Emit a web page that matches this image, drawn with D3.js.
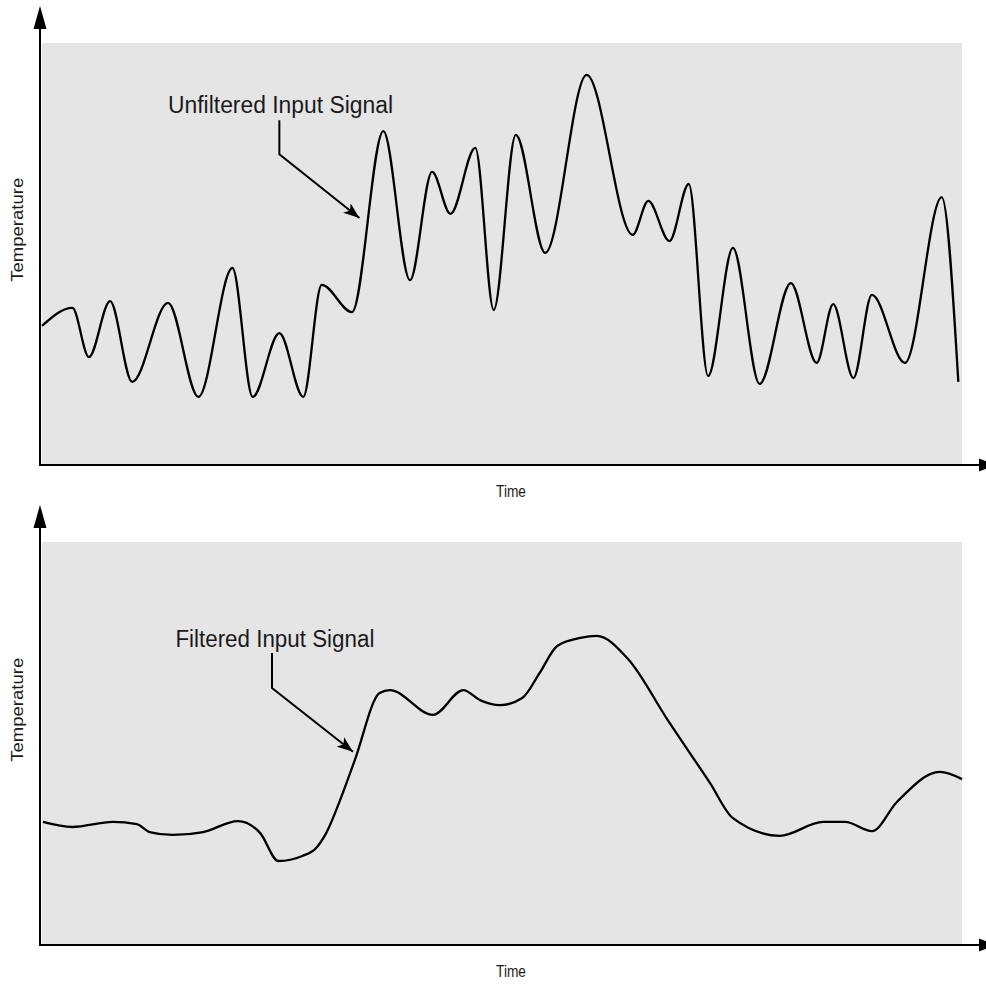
<!DOCTYPE html>
<html>
<head>
<meta charset="utf-8">
<script src="https://cdn.jsdelivr.net/npm/d3@7"></script>
<style>
  html, body { margin: 0; padding: 0; background: #ffffff; }
  svg { display: block; }
  text { font-family: "Liberation Sans", Arial, "DejaVu Sans", sans-serif; fill: #1a1a1a; }
</style>
</head>
<body>
<svg id="chart" width="986" height="986"></svg>
<script>
// ---- Data (time in arbitrary units 0..100, temperature in arbitrary units 0..100) ----
const unfilteredTime = [0.0, 3.3, 5.1, 7.4, 9.8, 13.7, 17.0, 20.7, 22.9, 25.8, 28.4, 30.4, 33.7, 37.1, 40.0, 42.4, 44.4, 47.1, 49.1, 51.5, 54.7, 59.2, 64.2, 65.9, 68.2, 70.3, 72.4, 75.1, 78.0, 81.4, 84.2, 86.0, 88.2, 90.2, 93.8, 97.8, 99.6];
const unfilteredTemp = [33.1, 37.4, 25.7, 39.0, 19.8, 38.6, 16.2, 46.9, 16.2, 31.4, 16.2, 42.9, 36.4, 79.5, 44.0, 69.8, 59.8, 75.5, 36.9, 78.6, 50.5, 92.9, 54.8, 62.9, 53.3, 66.9, 21.2, 51.7, 19.3, 43.3, 24.3, 38.3, 20.7, 40.5, 24.3, 63.8, 19.8];

const filteredTime = [0.1, 3.3, 7.7, 10.3, 11.7, 14.2, 17.5, 21.3, 23.7, 25.7, 28.3, 29.8, 30.9, 32.4, 34.0, 36.7, 37.8, 42.5, 45.8, 47.6, 49.8, 52.2, 54.1, 56.0, 58.5, 60.3, 63.7, 68.0, 72.6, 75.1, 80.2, 84.9, 87.3, 90.2, 92.9, 97.6, 100.0];
const filteredTemp = [29.3, 28.1, 29.3, 28.8, 26.9, 26.2, 26.9, 29.5, 26.7, 20.0, 21.2, 23.1, 26.7, 34.5, 44.0, 60.0, 60.7, 54.8, 60.7, 58.3, 57.1, 58.8, 64.8, 71.2, 73.1, 73.6, 68.1, 53.6, 38.6, 30.2, 26.0, 29.3, 29.3, 27.1, 34.0, 41.2, 39.5];

const panelTitles = ["Unfiltered Input Signal", "Filtered Input Signal"];
const xAxisTitle = "Time";
const yAxisTitle = "Temperature";

// annotation anchors in data units: [labelT, labelV, elbowT, elbowTopV, elbowV, tipT, tipV]
const annotUnfiltered = [13.7, 83.8, 25.8, 82.1, 74.0, 34.5, 58.8];
const annotFiltered = [14.5, 71.0, 25.0, 69.5, 61.2, 33.8, 46.0];

// ---- Layout ----
const svg = d3.select("#chart");
const x = d3.scaleLinear().domain([0, 100]).range([42, 962]);

const panels = [
  { time: unfilteredTime, temp: unfilteredTemp, title: panelTitles[0], annot: annotUnfiltered, titleLen: 225,
    y: d3.scaleLinear().domain([0, 100]).range([465, 45]), top: 43, axisTop: 6 },
  { time: filteredTime, temp: filteredTemp, title: panelTitles[1], annot: annotFiltered, titleLen: 199,
    y: d3.scaleLinear().domain([0, 100]).range([945, 525]), top: 542, axisTop: 505 }
];

const defs = svg.append("defs");
defs.append("marker")
  .attr("id", "callout-head")
  .attr("viewBox", "0 0 16 12")
  .attr("refX", 16).attr("refY", 6)
  .attr("markerWidth", 16).attr("markerHeight", 12)
  .attr("markerUnits", "userSpaceOnUse")
  .attr("orient", "auto")
  .append("path").attr("d", "M0,0 L16,6 L0,12 L4,6 Z").attr("fill", "#000");

panels.forEach(p => {
  const g = svg.append("g");
  const y0 = p.y.range()[0];
  // plot background
  g.append("rect")
    .attr("x", x.range()[0]).attr("y", p.top)
    .attr("width", x.range()[1] - x.range()[0]).attr("height", y0 - p.top)
    .attr("fill", "#e5e5e5");

  // signal
  const line = d3.line()
    .x((d, i) => x(p.time[i]))
    .y((d, i) => p.y(p.temp[i]))
    .curve(d3.curveMonotoneX);
  g.append("path")
    .datum(p.temp)
    .attr("d", line)
    .attr("fill", "none")
    .attr("stroke", "#000")
    .attr("stroke-width", 2.3)
    .attr("stroke-linejoin", "round");

  // axes
  const ax = 40;
  g.append("line").attr("x1", ax).attr("x2", ax).attr("y1", p.axisTop + 20).attr("y2", y0 + 1)
    .attr("stroke", "#000").attr("stroke-width", 2);
  g.append("path")
    .attr("d", `M${ax},${p.axisTop} L${ax - 6.5},${p.axisTop + 23} L${ax + 6.5},${p.axisTop + 23} Z`)
    .attr("fill", "#000");
  g.append("line").attr("x1", ax - 1).attr("x2", 982).attr("y1", y0).attr("y2", y0)
    .attr("stroke", "#000").attr("stroke-width", 2);
  g.append("path")
    .attr("d", `M996,${y0} L979,${y0 - 6.5} L979,${y0 + 6.5} Z`)
    .attr("fill", "#000");

  // axis titles
  g.append("text")
    .attr("x", 496).attr("y", y0 + 32)
    .attr("font-size", 16)
    .attr("textLength", 30).attr("lengthAdjust", "spacingAndGlyphs")
    .text(xAxisTitle);
  const yc = p.y(56);
  g.append("text")
    .attr("transform", `translate(23,${yc + 52}) rotate(-90)`)
    .attr("font-size", 16)
    .attr("textLength", 104).attr("lengthAdjust", "spacingAndGlyphs")
    .text(yAxisTitle);

  // callout
  const a = p.annot;
  g.append("text")
    .attr("x", x(a[0])).attr("y", p.y(a[1]))
    .attr("font-size", 23)
    .attr("textLength", p.titleLen).attr("lengthAdjust", "spacingAndGlyphs")
    .text(p.title);
  g.append("path")
    .attr("d", `M${x(a[2])},${p.y(a[3])} L${x(a[2])},${p.y(a[4])} L${x(a[5])},${p.y(a[6])}`)
    .attr("fill", "none").attr("stroke", "#000").attr("stroke-width", 2)
    .attr("marker-end", "url(#callout-head)");
});
</script>
</body>
</html>
